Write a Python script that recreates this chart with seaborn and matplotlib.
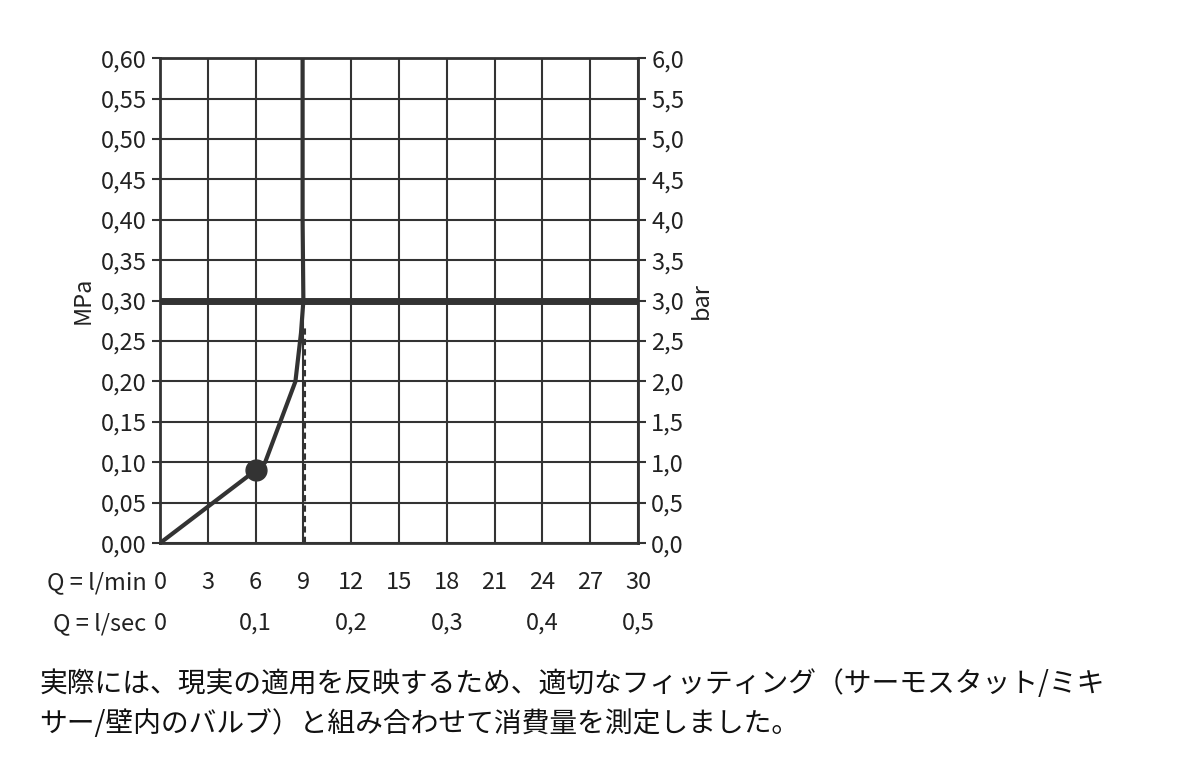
import matplotlib
matplotlib.use("Agg")
import matplotlib.pyplot as plt
import matplotlib.transforms as mtransforms
import seaborn as sns
import pandas as pd

sns.set_theme(style="white")
plt.rcParams['font.family'] = ['Noto Sans CJK JP', 'DejaVu Sans']

flow = [0, 3, 6, 6.6, 8.5, 8.85, 9.0, 8.95, 8.95]
pressure = [0, 0.045, 0.09, 0.10, 0.20, 0.26, 0.30, 0.40, 0.60]
marker_pt = (6, 0.09)
lmin_ticks = [0, 3, 6, 9, 12, 15, 18, 21, 24, 27, 30]
lsec_pos = [0, 6, 12, 18, 24, 30]
lsec_labels = ["0", "0,1", "0,2", "0,3", "0,4", "0,5"]
mpa_ticks = [i * 0.05 for i in range(13)]
bar_labels = [f"{i*0.5:.1f}".replace(".", ",") for i in range(13)]
caption = "実際には、現実の適用を反映するため、適切なフィッティング（サーモスタット/ミキ\nサー/壁内のバルブ）と組み合わせて消費量を測定しました。"

col = "#333333"
fig = plt.figure(figsize=(12, 7.65), dpi=100)
ax = fig.add_axes([0.1333, 0.290, 0.3984, 0.634])
df = pd.DataFrame({"q": flow, "p": pressure})
sns.lineplot(data=df, x="q", y="p", sort=False, estimator=None, color=col, lw=3, ax=ax)
ax.plot([9.1, 9.1], [0, 0.27], ls=(0, (3, 2)), color=col, lw=1.5)
ax.axhline(0.30, color=col, lw=5)
ax.plot(*marker_pt, "o", color=col, ms=15)
ax.set_xlim(0, 30); ax.set_ylim(0, 0.6)
ax.set_xticks(lmin_ticks); ax.set_yticks(mpa_ticks)
ax.grid(True, color=col, lw=1.5)
for s in ax.spines.values():
    s.set_color(col); s.set_linewidth(2)
ax.set_xticklabels([]); ax.set_xlabel(""); ax.set_ylabel("MPa", fontsize=17, color="#222")
ax.set_yticklabels([f"{v:.2f}".replace(".", ",") for v in mpa_ticks], fontsize=17, color="#222")
ax.tick_params(axis="y", length=6, color=col, width=1.5, left=True)
ax2 = ax.twinx()
ax2.set_ylim(0, 0.6); ax2.set_yticks(mpa_ticks)
ax2.set_yticklabels(bar_labels, fontsize=17, color="#222")
ax2.set_ylabel("bar", fontsize=17, color="#222")
ax2.tick_params(axis="y", length=6, color=col, width=1.5, right=True)
for s in ax2.spines.values():
    s.set_visible(False)
tr = mtransforms.blended_transform_factory(ax.transData, fig.transFigure)
for v in lmin_ticks:
    ax.text(v, 0.238, str(v), transform=tr, ha="center", va="center", fontsize=17, color="#222")
for v, l in zip(lsec_pos, lsec_labels):
    ax.text(v, 0.185, l, transform=tr, ha="center", va="center", fontsize=17, color="#222")
fig.text(0.122, 0.238, "Q = l/min", ha="right", va="center", fontsize=17, color="#222")
fig.text(0.122, 0.185, "Q = l/sec", ha="right", va="center", fontsize=17, color="#222")
fig.text(0.033, 0.080, caption, ha="left", va="center", fontsize=20, color="#111", linespacing=1.45)
fig.savefig("out.png", dpi=100)
